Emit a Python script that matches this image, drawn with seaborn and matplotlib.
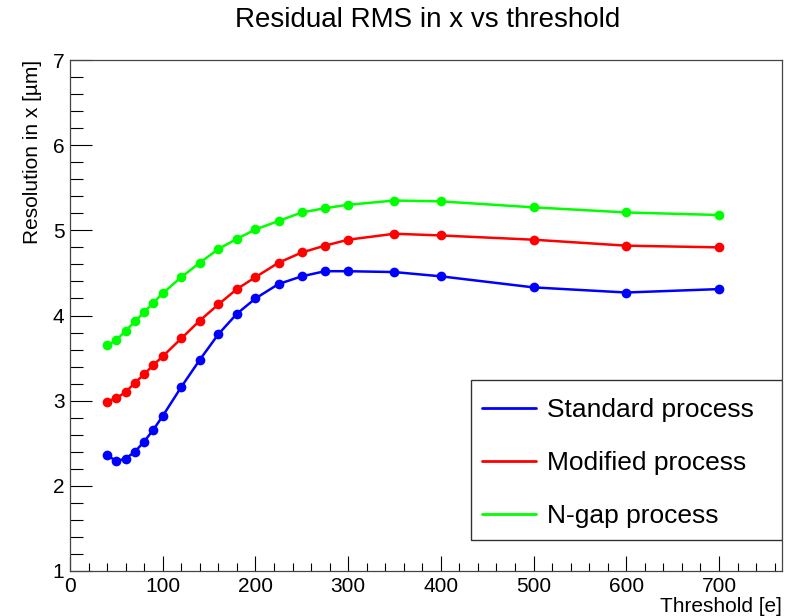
import matplotlib
matplotlib.use("Agg")
import matplotlib.pyplot as plt
import seaborn as sns
import pandas as pd
from matplotlib.ticker import MultipleLocator
from matplotlib.patches import Rectangle

threshold = [40, 50, 60, 70, 80, 90, 100, 120, 140, 160, 180, 200,
             225, 250, 275, 300, 350, 400, 500, 600, 700]
standard = [2.36, 2.29, 2.32, 2.40, 2.52, 2.66, 2.82, 3.16, 3.48, 3.78, 4.02, 4.20,
            4.37, 4.46, 4.52, 4.52, 4.51, 4.46, 4.33, 4.27, 4.31]
modified = [2.99, 3.03, 3.10, 3.21, 3.31, 3.42, 3.52, 3.73, 3.94, 4.13, 4.31, 4.45,
            4.62, 4.74, 4.82, 4.89, 4.96, 4.94, 4.89, 4.82, 4.80]
ngap = [3.65, 3.71, 3.82, 3.93, 4.04, 4.15, 4.26, 4.45, 4.62, 4.78, 4.90, 5.01,
        5.11, 5.21, 5.26, 5.30, 5.35, 5.34, 5.27, 5.21, 5.18]
series_names = ["Standard process", "Modified process", "N-gap process"]
colors = ["#0000ff", "#ff0000", "#00ff00"]

df = pd.concat([
    pd.DataFrame({"threshold": threshold, "value": vals, "series": name})
    for name, vals in zip(series_names, [standard, modified, ngap])
], ignore_index=True)

sns.set_theme(style="white")
plt.rcParams['font.family'] = ['Liberation Sans', 'DejaVu Sans']
plt.rcParams['text.color'] = 'black'
plt.rcParams['axes.labelcolor'] = 'black'
plt.rcParams['xtick.color'] = 'black'
plt.rcParams['ytick.color'] = 'black'

fig = plt.figure(figsize=(7.9, 6.16), dpi=100)
ax = fig.add_axes([70/790, 45/616, 712/790, 511/616])

sns.lineplot(data=df, x="threshold", y="value", hue="series",
             hue_order=series_names, palette=colors, marker="o",
             markersize=7, markeredgewidth=0, linewidth=1.8, ax=ax)

ax.set_xlim(0, 768)
ax.set_ylim(1, 7)
ax.xaxis.set_major_locator(MultipleLocator(100))
ax.xaxis.set_minor_locator(MultipleLocator(20))
ax.yaxis.set_major_locator(MultipleLocator(1))
ax.yaxis.set_minor_locator(MultipleLocator(0.2))
ax.tick_params(axis="x", which="major", direction="in", length=11, width=0.8,
               labelsize=15, pad=4, color="black", top=False, bottom=True)
ax.tick_params(axis="x", which="minor", direction="in", length=6, width=0.8,
               color="black", top=False, bottom=True)
ax.tick_params(axis="y", which="major", direction="in", length=16, width=0.8,
               labelsize=15, pad=4, color="black", left=True, right=False)
ax.tick_params(axis="y", which="minor", direction="in", length=9, width=0.8,
               color="black", left=True, right=False)
for s in ax.spines.values():
    s.set_color("#444444")
    s.set_linewidth(0.9)

ax.set_xlabel("Threshold [e]", fontsize=15, loc="right", labelpad=1)
ax.set_ylabel("Resolution in x [µm]", fontsize=15, loc="top", labelpad=8)
fig.suptitle("Residual RMS in x vs threshold", fontsize=20, x=0.541, y=0.988)

# legend frame (ROOT-style box)
x0 = (471 - 70) / 712
y0 = (571 - 540) / 511
y1 = (571 - 380) / 511
ax.add_patch(Rectangle((x0, y0), 1.0 - x0, y1 - y0, transform=ax.transAxes,
                       facecolor="white", edgecolor="#333333", linewidth=1.0,
                       zorder=4))

leg = ax.legend(loc="center left",
                bbox_to_anchor=(x0 + 3/712, (y0 + y1) / 2 - 3/511),
                fontsize=19, frameon=False, handlelength=2.05, handletextpad=0.42,
                labelspacing=1.1, borderpad=0.3, borderaxespad=0)
leg.set_zorder(5)
for h in leg.get_lines():
    h.set_marker("")
    h.set_linewidth(2)
leg.set_title(None)

fig.savefig("out.png", dpi=100)
